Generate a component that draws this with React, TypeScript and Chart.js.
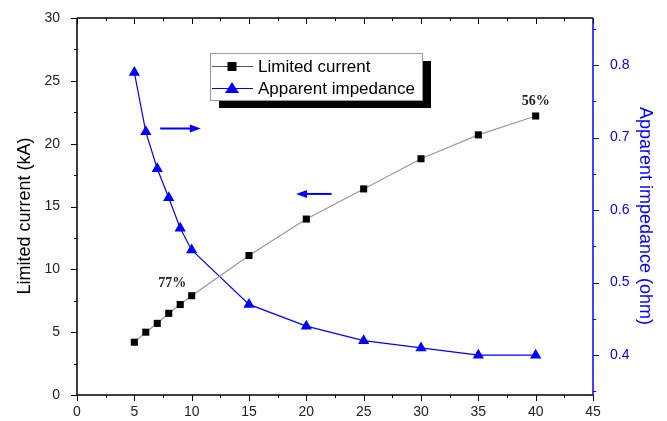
import React, { useEffect, useRef } from "react";
import { Chart, registerables } from "chart.js";

Chart.register(...registerables);

const xValues = [5, 6, 7, 8, 9, 10, 15, 20, 25, 30, 35, 40];
const limitedCurrent = [4.2, 5.0, 5.7, 6.5, 7.2, 7.9, 11.1, 14.0, 16.4, 18.8, 20.7, 22.2];
const apparentImpedance = [0.79, 0.708, 0.657, 0.617, 0.575, 0.545, 0.47, 0.44, 0.42, 0.41, 0.4, 0.4];
const rightTicks = [0.4, 0.5, 0.6, 0.7, 0.8];
const seriesNames = ["Limited current", "Apparent impedance"];
const axisTitles = ["Limited current (kA)", "Apparent impedance (ohm)"];
const notes = [
  { text: "77%", x: 8.3, y: 8.9 },
  { text: "56%", x: 40, y: 23.4 },
];
const arrows = [
  { x1: 7.25, x2: 10.8, y: 21.2 },
  { x1: 22.2, x2: 19.1, y: 16.0 },
];

const BLUE = "#0000ff";
const SANS = "'Liberation Sans', Arial, sans-serif";

const decorPlugin = {
  id: "decor",
  afterDraw(chart: any) {
    const ctx = chart.ctx as CanvasRenderingContext2D;
    const { left, right, top, bottom } = chart.chartArea;
    const xs = chart.scales.x;
    const ys = chart.scales.y;
    const y1 = chart.scales.y1;
    ctx.save();
    // frame
    ctx.lineWidth = 1.5;
    ctx.strokeStyle = "#000";
    ctx.beginPath();
    ctx.moveTo(left, top);
    ctx.lineTo(right, top);
    ctx.moveTo(left, top);
    ctx.lineTo(left, bottom);
    ctx.lineTo(right, bottom);
    ctx.stroke();
    ctx.strokeStyle = BLUE;
    ctx.beginPath();
    ctx.moveTo(right, top);
    ctx.lineTo(right, bottom);
    ctx.stroke();
    // x ticks (bottom outward, top inward)
    ctx.strokeStyle = "#000";
    ctx.lineWidth = 1;
    ctx.beginPath();
    for (let v = 0; v <= 45; v += 2.5) {
      const px = Math.round(xs.getPixelForValue(v)) + 0.5;
      const major = v % 5 === 0;
      const len = major ? 6 : 3;
      ctx.moveTo(px, bottom);
      ctx.lineTo(px, bottom + len);
      ctx.moveTo(px, top);
      ctx.lineTo(px, top + len);
    }
    // left y ticks
    for (let v = 0; v <= 30; v += 2.5) {
      const py = Math.round(ys.getPixelForValue(v)) + 0.5;
      const major = v % 5 === 0;
      ctx.moveTo(left, py);
      ctx.lineTo(left - (major ? 6 : 3), py);
    }
    ctx.stroke();
    // right y ticks
    ctx.strokeStyle = BLUE;
    ctx.beginPath();
    for (let v = 0.35; v <= 0.86; v += 0.05) {
      const vv = Math.round(v * 100) / 100;
      const py = Math.round(y1.getPixelForValue(vv)) + 0.5;
      const major = Math.round(vv * 100) % 10 === 0;
      ctx.moveTo(right, py);
      ctx.lineTo(right + (major ? 6 : 3), py);
    }
    ctx.stroke();

    // axis titles
    ctx.font = "18px " + SANS;
    ctx.textAlign = "center";
    ctx.textBaseline = "middle";
    ctx.fillStyle = "#000";
    ctx.save();
    ctx.translate(25, 216);
    ctx.rotate(-Math.PI / 2);
    ctx.fillText(axisTitles[0], 0, 0);
    ctx.restore();
    ctx.fillStyle = BLUE;
    ctx.save();
    ctx.translate(645, 216);
    ctx.rotate(Math.PI / 2);
    ctx.fillText(axisTitles[1], 0, 0);
    ctx.restore();

    // arrows
    ctx.strokeStyle = BLUE;
    ctx.fillStyle = BLUE;
    ctx.lineWidth = 2;
    for (const a of arrows) {
      const px1 = xs.getPixelForValue(a.x1);
      const px2 = xs.getPixelForValue(a.x2);
      const py = ys.getPixelForValue(a.y);
      const dir = px2 > px1 ? 1 : -1;
      ctx.beginPath();
      ctx.moveTo(px1, py);
      ctx.lineTo(px2 - dir * 6, py);
      ctx.stroke();
      ctx.beginPath();
      ctx.moveTo(px2, py);
      ctx.lineTo(px2 - dir * 11, py - 4);
      ctx.lineTo(px2 - dir * 11, py + 4);
      ctx.closePath();
      ctx.fill();
    }

    // notes
    ctx.fillStyle = "#222";
    ctx.font = "bold 14px 'Liberation Serif', 'DejaVu Serif', serif";
    ctx.textAlign = "center";
    ctx.textBaseline = "middle";
    for (const n of notes) {
      ctx.fillText(n.text, xs.getPixelForValue(n.x), ys.getPixelForValue(n.y));
    }

    // legend
    const lx = 210, ly = 53, lw = 212, lh = 47;
    ctx.fillStyle = "#000";
    ctx.fillRect(lx + 9, ly + 8, lw, lh);
    ctx.fillStyle = "#fff";
    ctx.fillRect(lx, ly, lw, lh);
    ctx.strokeStyle = "#999";
    ctx.lineWidth = 1;
    ctx.strokeRect(lx + 0.5, ly + 0.5, lw, lh);
    ctx.font = "17px " + SANS;
    ctx.textAlign = "left";
    ctx.textBaseline = "middle";
    const rows = [
      { y: ly + 13, color: "#000", line: "#555", shape: "rect" },
      { y: ly + 35, color: BLUE, line: BLUE, shape: "tri" },
    ];
    rows.forEach((r, i) => {
      ctx.strokeStyle = r.line;
      ctx.lineWidth = 1.2;
      ctx.beginPath();
      ctx.moveTo(lx + 2, r.y + 0.5);
      ctx.lineTo(lx + 43, r.y + 0.5);
      ctx.stroke();
      ctx.fillStyle = r.color;
      const cx = lx + 22;
      if (r.shape === "rect") {
        ctx.fillRect(cx - 4.5, r.y - 4, 9, 9);
      } else {
        ctx.beginPath();
        ctx.moveTo(cx, r.y - 6);
        ctx.lineTo(cx - 7, r.y + 5);
        ctx.lineTo(cx + 7, r.y + 5);
        ctx.closePath();
        ctx.fill();
      }
      ctx.fillStyle = "#000";
      ctx.fillText(seriesNames[i], lx + 48, r.y + 1);
    });
    ctx.restore();
  },
};

export default function App() {
  const ref = useRef<HTMLCanvasElement | null>(null);
  useEffect(() => {
    if (!ref.current) return;
    const tickFont = { family: SANS, size: 14 };
    const chart = new Chart(ref.current, {
      type: "line",
      data: {
        datasets: [
          {
            label: seriesNames[0],
            data: xValues.map((x, i) => ({ x, y: limitedCurrent[i] })),
            yAxisID: "y",
            borderColor: "#999999",
            borderWidth: 1.2,
            backgroundColor: "#000",
            pointBackgroundColor: "#000",
            pointBorderColor: "#000",
            pointStyle: "rect",
            pointRadius: 5,
            pointBorderWidth: 0,
            tension: 0,
          },
          {
            label: seriesNames[1],
            data: xValues.map((x, i) => ({ x, y: apparentImpedance[i] })),
            yAxisID: "y1",
            borderColor: BLUE,
            borderWidth: 1.2,
            backgroundColor: BLUE,
            pointBackgroundColor: BLUE,
            pointBorderColor: BLUE,
            pointStyle: "triangle",
            pointRadius: 6.5,
            pointBorderWidth: 0,
            tension: 0,
          },
        ],
      },
      options: {
        responsive: false,
        animation: false,
        layout: { padding: { top: 18, left: 0, right: 0, bottom: 0 } },
        plugins: { legend: { display: false }, tooltip: { enabled: false } },
        scales: {
          x: {
            type: "linear",
            min: 0,
            max: 45,
            ticks: { stepSize: 5, color: "#222", font: tickFont, padding: 1, maxRotation: 0 },
            grid: { display: false },
            border: { display: false },
            afterFit: (s: any) => { s.height = 26; },
          },
          y: {
            type: "linear",
            position: "left",
            min: 0,
            max: 30,
            ticks: { stepSize: 5, color: "#222", font: tickFont, padding: 9 },
            grid: { display: false },
            border: { display: false },
            afterFit: (s: any) => { s.width = 77; },
          },
          y1: {
            type: "linear",
            position: "right",
            min: 0.345,
            max: 0.865,
            afterBuildTicks: (s: any) => { s.ticks = rightTicks.map((v) => ({ value: v })); },
            ticks: { color: BLUE, font: tickFont, padding: 9, callback: (v: any) => Number(v).toFixed(1) },
            grid: { display: false },
            border: { display: false },
            afterFit: (s: any) => { s.width = 74; },
          },
        },
      },
      plugins: [decorPlugin],
    } as any);
    return () => chart.destroy();
  }, []);
  return (
    <div style={{ position: "absolute", left: 0, top: 0, width: 667, height: 421, background: "#fff" }}>
      <canvas ref={ref} width={667} height={421} />
    </div>
  );
}
